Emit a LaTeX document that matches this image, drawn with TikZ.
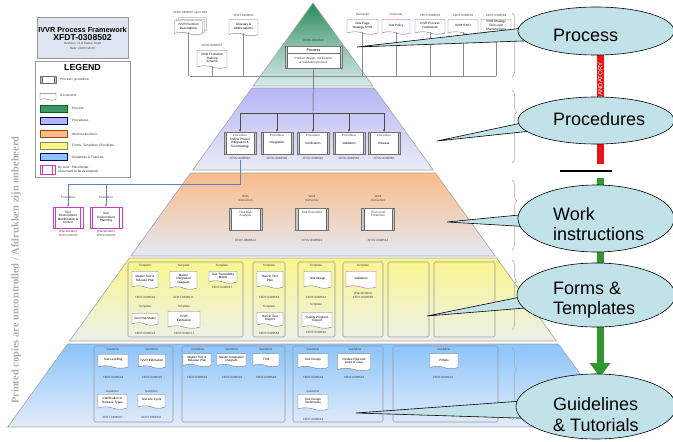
\documentclass[tikz,border=0pt]{standalone}
\usepackage{fontspec}
\setmainfont{Liberation Sans}
\newfontfamily\stampfont{Liberation Serif}
\usetikzlibrary{shapes.symbols,shapes.geometric,arrows.meta,decorations.pathreplacing}

\definecolor{bubble}{RGB}{194,226,234}
\definecolor{grnTop}{RGB}{40,138,88}
\definecolor{grnBot}{RGB}{216,234,236}
\definecolor{lavTop}{RGB}{182,182,246}
\definecolor{lavBot}{RGB}{234,236,248}
\definecolor{orTop}{RGB}{250,188,138}
\definecolor{orBot}{RGB}{228,232,244}
\definecolor{yeTop}{RGB}{250,246,140}
\definecolor{yeBot}{RGB}{236,240,234}
\definecolor{blTop}{RGB}{140,196,250}
\definecolor{blBot}{RGB}{226,236,250}
\definecolor{linkblue}{RGB}{90,130,200}
\definecolor{holder}{RGB}{200,60,190}
\definecolor{mandred}{RGB}{235,20,20}
\definecolor{flowgreen}{RGB}{50,150,50}
\definecolor{titlefill}{RGB}{222,228,240}

\begin{document}
\begin{tikzpicture}[x=1pt,y=-1pt,
  lbl/.style={font=\fontsize{3}{3.4}\selectfont, inner sep=0pt, text=black!75, align=center},
  legtext/.style={font=\fontsize{3.2}{3.7}\selectfont, inner sep=0pt, anchor=west, align=left, text=black!80},
  procbox/.style={draw=black!55, fill=white, line width=0.4pt, minimum width=32, minimum height=22,
    inner sep=1pt, align=center, font=\fontsize{3.1}{3.6}\selectfont,
    path picture={
      \fill[black!22] (path picture bounding box.north west) rectangle ([xshift=2.2pt]path picture bounding box.south west);
      \fill[black!22] (path picture bounding box.north east) rectangle ([xshift=-2.2pt]path picture bounding box.south east);
      \draw[black!60, line width=0.3pt] ([xshift=2.2pt]path picture bounding box.north west) -- ([xshift=2.2pt]path picture bounding box.south west);
      \draw[black!60, line width=0.3pt] ([xshift=-2.2pt]path picture bounding box.north east) -- ([xshift=-2.2pt]path picture bounding box.south east);}},
  holderbox/.style={procbox, draw=holder, path picture={
      \draw[holder, line width=0.4pt] ([xshift=2.5pt]path picture bounding box.north west) -- ([xshift=2.5pt]path picture bounding box.south west);
      \draw[holder, line width=0.4pt] ([xshift=-2.5pt]path picture bounding box.north east) -- ([xshift=-2.5pt]path picture bounding box.south east);}},
  docbox/.style={tape, tape bend top=none, tape bend bottom=out and in, tape bend height=2.5pt,
    draw=black!55, fill=white, line width=0.4pt, inner sep=0.6pt, align=center,
    font=\fontsize{3.1}{3.6}\selectfont},
  grp/.style={draw=black!40, rounded corners=1.5pt, line width=0.6pt},
  layer/.style={draw=black!35, line width=0.6pt},
  conn/.style={draw=black!70, line width=0.45pt},
  arr/.style={conn, -{Stealth[length=2.6pt,width=2.2pt]}},
  barr/.style={draw=linkblue, line width=0.5pt},
  barrow/.style={barr, -{Stealth[length=2.6pt,width=2.2pt]}},
  topline/.style={draw=black!45, line width=0.45pt},
  brc/.style={draw=black!35, line width=0.5pt, decorate, decoration={brace, amplitude=5pt, aspect=0.3}},
  callout/.style={ellipse, draw=black, line width=0.6pt, fill=bubble, inner sep=0pt},
  calltext/.style={font=\fontsize{18}{20.5}\selectfont, anchor=west, align=left, inner sep=0pt},
  tail/.style={draw=black, line width=0.6pt, fill=bubble, line join=miter}
]
\path[use as bounding box] (0,0) rectangle (673,442);

% ---------- pyramid layers ----------
\path[layer, top color=grnTop, bottom color=grnBot, middle color=grnTop!45!grnBot]
  (313,3) -- (372.8,86) -- (253.2,86) -- cycle;
\path[layer, top color=lavTop, bottom color=lavBot]
  (251.8,88) -- (374.2,88) -- (433.2,170) -- (192.8,170) -- cycle;
\path[layer, top color=orTop, bottom color=orBot]
  (190.6,173) -- (435.4,173) -- (495.2,256) -- (130.8,256) -- cycle;
\path[layer, top color=yeTop, bottom color=yeBot]
  (129.4,258) -- (496.6,258) -- (556.4,341) -- (69.6,341) -- cycle;
\path[layer, top color=blTop, bottom color=blBot]
  (67.5,344) -- (558.5,344) -- (618.3,427) -- (7.7,427) -- cycle;

% ---------- title block and legend ----------
\draw[black!40, fill=titlefill] (37,17) rectangle (128,58);
\node[font=\bfseries\fontsize{7.3}{8}\selectfont, inner sep=0pt] (ttl1) at (82.5,29.5) {IVVR Process Framework};
\node[font=\bfseries\fontsize{8.6}{9}\selectfont, inner sep=0pt] (ttl2) at (82.5,37.5) {XFDT-0308502};
\node[lbl] (ttl3) at (82.5,43.5) {Revision: v1.0 Status: Draft};
\node[lbl] (ttl4) at (82.5,48) {Date: 2010 Feb 05};

\draw[black!40, fill=white] (35,61) rectangle (130,177);
\node[font=\bfseries\fontsize{8.8}{9}\selectfont, inner sep=0pt] (lgT) at (82.5,67.5) {LEGEND};
\node[procbox, minimum width=16, minimum height=7, fill=white] (lg1) at (48,79.5) {};
\node[legtext] (lg1t) at (60,80) {Process / procedure};
\node[docbox, minimum width=16, minimum height=7, tape bend height=1.8pt] (lg2) at (48,96) {};
\node[legtext] (lg2t) at (60,95.5) {Documents};
\draw[draw=green!40!black, fill=grnTop!90] (40,105) rectangle (67,112);
\node[legtext] (lg3t) at (72,108.5) {Process};
\draw[draw=blue!50!black, fill=lavTop] (40,117) rectangle (67,124);
\node[legtext] (lg4t) at (72,120.5) {Procedures};
\draw[draw=orange!60!black, fill=orTop] (40,130.5) rectangle (67,137.5);
\node[legtext] (lg5t) at (72,134) {Work Instructions};
\draw[draw=yellow!50!black, fill=yeTop] (40,142) rectangle (67,149);
\node[legtext] (lg6t) at (72,145.5) {Forms, Templates, Checklists};
\draw[draw=blue!50!black, fill=blTop] (40,153.5) rectangle (67,160.5);
\node[legtext] (lg7t) at (72,157) {Guidelines \& Tutorials};
\node[holderbox, minimum width=15, minimum height=8.5] (lg8) at (47.5,169.5) {};
\node[legtext] (lg8t) at (58,169.5) {By color: Placeholder\\(document to be developed)};

% ---------- side stamp ----------
\node[rotate=90, anchor=east, inner sep=0pt, text=black!32, font=\stampfont\bfseries\fontsize{10.5}{11}\selectfont]
  (stamp) at (16,136) {Printed copies are uncontrolled / Afdrukken zijn onbeheerd};

% ---------- top-level documents ----------
\node[docbox, minimum width=28, minimum height=14] (fd3) at (192.5,23.5) {};
\node[docbox, minimum width=28, minimum height=14] (fd2) at (190.5,25) {};
\node[docbox, minimum width=28, minimum height=14] (fd1) at (188.5,26.5) {IVVR Function\\Descriptions};
\node[lbl] (fd1l) at (190,13) {XFDV-0308507 up to 509};
\node[docbox, minimum width=29, minimum height=16] (gl) at (243.5,26.5) {Glossary \&\\Abbreviations};
\node[lbl] (gll) at (243.5,15) {XFDT-0308501};
\node[docbox, minimum width=30, minimum height=18] (ft) at (212,58) {IVVR Formalize\\Training\\Scheme};
\node[lbl] (ftl) at (212,45.5) {XFDV-0308507};

\node[docbox, minimum width=31, minimum height=15] (op) at (362.5,25.5) {One Page\\Strategy IVVR};
\node[lbl] (opl) at (362.5,15) {(General)};
\node[docbox, draw=holder, minimum width=28, minimum height=15] (tp) at (396,25.5) {Test Policy};
\node[lbl] (tpl) at (396,15) {(General)};
\node[docbox, minimum width=30, minimum height=15] (pf) at (430,25.5) {IVVR Process\\Framework};
\node[lbl] (pfl) at (430,15) {XFDT-0308502};
\node[docbox, minimum width=30, minimum height=15] (rc) at (463,25.5) {IVVR RACI};
\node[lbl] (rcl) at (463,15) {XFDT-0308503};
\node[docbox, minimum width=30, minimum height=15] (tl) at (496,25.5) {IVVR Strategy\\Test Level\\Characteristics};
\node[lbl] (tll) at (496,15) {XFDT-0308504};

\coordinate (busL) at (190,76);
\coordinate (busR) at (496,76);
\draw[topline] (busL) -- (busR);
\draw[topline] (fd1.south) -- (fd1.south |- busL);
\draw[topline] (ft.south) -- (ft.south |- busL);
\draw[topline] (gl.south) -- (gl.south |- busL);
\draw[topline] (op.south) -- (op.south |- busL);
\draw[topline] (tp.south) -- (tp.south |- busL);
\draw[topline] (pf.south) -- (pf.south |- busL);
\draw[topline] (rc.south) -- (rc.south |- busL);
\draw[topline] (tl.south) -- (tl.south |- busL);

% ---------- process ----------
\node[lbl] (procl) at (313.5,40) {XFDV-0308500};
\node[procbox, minimum width=57, minimum height=22] (proc) at (313.5,57) {};
\node[font=\fontsize{3.8}{4}\selectfont, inner sep=0pt] (proch) at (313.5,50) {Process};
\draw[black!55, line width=0.35pt] (287.2,53) -- (339.8,53);
\node[lbl, font=\fontsize{3.1}{3.8}\selectfont] (procd) at (313.5,60.5) {Product design, Verification\\\& Validation process};

% ---------- procedures ----------
\coordinate (br) at (313,113);
\coordinate (brL) at (240,113);
\coordinate (brR) at (384,113);
\node[procbox] (pr1) at (240,143) {Define Project\\Integration \&\\Test Strategy};
\node[procbox] (pr2) at (277,143) {Integration};
\node[procbox] (pr3) at (313,143) {Verification};
\node[procbox] (pr4) at (349,143) {Validation};
\node[procbox] (pr5) at (384,143) {Release};
\draw[conn] (proc.south) -- (br);
\draw[conn] (brL) -- (brR);
\foreach \p in {pr1,pr2,pr3,pr4,pr5} {
  \draw[arr] (\p.north |- br) -- (\p.north);
}
\foreach \p/\i in {pr1/XFDV-0308510,pr2/XFDV-0308530,pr3/XFDV-0308540,pr4/XFDV-0308560,pr5/XFDV-0308580} {
  \node[lbl, fill=none] (\p l) at ([yshift=-4pt]\p.north) {Procedure};
  \node[lbl] (\p id) at ([yshift=-4.5pt]\p.south) {\i};
}

% placeholder procedures
\node[holderbox, minimum width=30, minimum height=21] (ph1) at (68,217.5) {Test\\Environment\\Identification \&\\Control};
\node[holderbox, minimum width=32, minimum height=21] (ph2) at (106,217.5) {Test\\Environment\\Planning};
\coordinate (bl1) at (240,184);
\coordinate (bl2) at (68,184);
\draw[barr] (pr1id.south) -- (bl1) -- (bl2);
\draw[barrow] (bl2) -- (ph1.north);
\draw[barrow] (ph2.north |- bl2) -- (ph2.north);
\node[lbl] (ph1l) at (68,197) {Procedure};
\node[lbl] (ph2l) at (106,197) {Procedure};
\node[lbl] (ph1id) at (68,233.5) {(Placeholder)\\XFDV-\#\#\#\#\#\#};
\node[lbl] (ph2id) at (106,233.5) {(Placeholder)\\XFDV-\#\#\#\#\#\#};

% ---------- work instructions ----------
\foreach \n/\x/\t/\i in {wi1/245.5/{Test Risk\\Analysis}/XFDV-0308513, wi2/312/{Test Execution}/XFDV-0308541, wi3/378/{Test Level\\Protection}/XFDV-0308514} {
  \node[procbox, minimum width=33] (\n) at (\x,219) {};
  \node[lbl, font=\fontsize{3.1}{3.6}\selectfont, anchor=north] (\n t) at ([yshift=-3pt]\n.north) {\t};
  \node[lbl] (\n l) at (\x,198.5) {Work\\Instruction};
  \node[lbl] (\n id) at (\x,240) {\i};
}

% ---------- forms & templates ----------
\draw[grp] (128,262) rectangle (243,337);
\draw[grp] (253,262) rectangle (285,337);
\draw[grp] (298,262) rectangle (335,337);
\draw[grp] (343,262) rectangle (383,337);
\draw[grp] (388,262) rectangle (429,337);
\draw[grp] (434,262) rectangle (495,337);

\node[docbox, minimum width=26, minimum height=17] (f1) at (145,278.5) {Master Test \&\\Release Plan};
\node[docbox, minimum width=27, minimum height=18] (f2) at (183.5,279) {Master\\Integration\\Diagram};
\node[docbox, minimum width=28, minimum height=12] (f3) at (223,276) {Test Traceability\\Matrix};
\node[docbox, minimum width=26, minimum height=12] (f4) at (145,318) {Test Risk Matrix};
\node[docbox, minimum width=32, minimum height=17] (f5) at (184,318.5) {IVVR\\Estimation};
\node[docbox, minimum width=26, minimum height=17] (f6) at (270,278.5) {Harvin Test\\Plan};
\node[docbox, minimum width=26, minimum height=14] (f7) at (270,318) {Harvin Test\\Report};
\node[docbox, minimum width=27, minimum height=17] (f8) at (317.5,278.5) {Test design};
\node[docbox, minimum width=30, minimum height=16] (f9) at (317,319) {Quality Progress\\Report};
\node[docbox, draw=holder, minimum width=30, minimum height=17] (f10) at (361,278.5) {Validation};

\foreach \n/\x/\y in {f1l/145/266, f2l/183.5/266, f3l/222/266, f4l/145/307, f5l/184/307, f6l/269/266, f7l/269/307, f8l/316/266, f9l/316/305, f10l/363/266} {
  \node[lbl] (\n) at (\x,\y) {Template};
}
\foreach \n/\x/\y/\i in {f1id/145/297/XFDT-0308515, f2id/183.5/297/XFDT-0308531, f3id/222/287.5/XFDT-0308547,
    f4id/145/333/XFDT-0308516, f5id/184/333/XFDT-0308517, f6id/269/297/XFDT-0308563, f7id/269/333/XFDT-0308564,
    f8id/316/297/XFDT-0308542, f9id/316/332/XFDT-0308546} {
  \node[lbl] (\n) at (\x,\y) {\i};
}
\node[lbl] (f10id) at (363,295.5) {(Placeholder)\\XFDT-0308565};

% ---------- guidelines & tutorials ----------
\draw[grp] (94,346) rectangle (173,422);
\draw[grp] (182,346) rectangle (285,422);
\draw[grp] (293,346) rectangle (383,422);
\draw[grp] (393,346) rectangle (498,422);

\node[docbox, minimum width=30, minimum height=14] (g1) at (113,360) {Test Levelling};
\node[docbox, minimum width=27, minimum height=14] (g2) at (152,360) {IVVR Estimation};
\node[docbox, minimum width=29, minimum height=15] (g3) at (112.5,400.5) {Clarification of\\Release Types};
\node[docbox, minimum width=27, minimum height=14] (g4) at (151.5,400) {Test Life Cycle};
\node[docbox, minimum width=28, minimum height=13] (g5) at (197,359) {Master Test \&\\Release Plan};
\node[docbox, minimum width=29, minimum height=13] (g6) at (231.5,359) {Master Integration\\Diagram};
\node[docbox, minimum width=26, minimum height=13] (g7) at (266,359) {TTM};
\node[docbox, minimum width=30, minimum height=15] (g8) at (313,360) {Test Design};
\node[docbox, minimum width=33, minimum height=17] (g9) at (354,361) {Review Risk test\\point of view};
\node[docbox, minimum width=30, minimum height=16] (g10) at (313,401) {Test Design\\Techniques};
\node[docbox, minimum width=28, minimum height=15] (g11) at (444,360) {Pitfalls};

\foreach \n/\x/\y in {g1l/113/349, g2l/152/349, g3l/112.5/391, g4l/151.5/391, g5l/198/349, g6l/232/349, g7l/266/349, g8l/313/349, g9l/355/349, g10l/313/391, g11l/444/349} {
  \node[lbl] (\n) at (\x,\y) {Guideline};
}
\foreach \n/\x/\y/\i in {g1id/113/377/XFDT-0308518, g2id/152/377/XFDT-0308520, g3id/112.5/417/XFDT-0308587, g4id/151.5/417/XFDT-0308511,
    g5id/197/377/XFDT-0308519, g6id/232/377/XFDT-0308532, g7id/266/377/XFDT-0308548,
    g8id/313/377/XFDT-0308543, g9id/354/377/XFDT-0308545, g10id/313/419/XFDT-0308544, g11id/443/377/XFDT-0308521} {
  \node[lbl] (\n) at (\x,\y) {\i};
}

% ---------- side braces ----------
\draw[brc] (512,13) -- (512,77);
\draw[brc] (512,90) -- (512,163);
\draw[brc] (512,180) -- (512,250);
\draw[brc] (512,260) -- (512,330);
\draw[brc] (512,348) -- (512,420);

% ---------- mandatory / flow arrow ----------
\fill[mandred] (596.5,50) rectangle (603.5,164);
\node[rotate=90, anchor=east, text=white, inner sep=0pt, font=\fontsize{6.2}{6.5}\selectfont] (mand) at (600.3,62) {MANDATORY};
\coordinate (cutL) at (560,171);
\coordinate (cutR) at (612,171);
\draw[black, line width=1.4pt] (cutL) -- (cutR);
\fill[flowgreen] (596.5,178) rectangle (603.5,364);
\fill[flowgreen] (589.5,363) -- (610.5,363) -- (600,377) -- cycle;

% ---------- callouts ----------
\coordinate (tipA) at (357,47);
\coordinate (tipB) at (437,141);
\coordinate (tipC) at (447,222);
\coordinate (tipD) at (427,316);
\coordinate (tipE) at (356,413);
\draw[tail] (tipA) -- (550,25) -- (550,40) -- cycle;
\draw[tail] (tipB) -- (550,117) -- (550,129) -- cycle;
\draw[tail] (tipC) -- (550,212) -- (550,228) -- cycle;
\draw[tail] (tipD) -- (550,291) -- (550,306) -- cycle;
\draw[tail] (tipE) -- (550,399) -- (550,419) -- cycle;

\node[callout, minimum width=156, minimum height=48] (cA) at (596,31) {};
\node[callout, minimum width=156, minimum height=47] (cB) at (596,120.5) {};
\node[callout, minimum width=156, minimum height=67] (cC) at (596,218.5) {};
\node[callout, minimum width=158, minimum height=64] (cD) at (596,295) {};
\node[callout, minimum width=160, minimum height=65] (cE) at (596,406.5) {};

\node[calltext] (cAt) at (553,35) {Process};
\node[calltext] (cBt) at (553,119.5) {Procedures};
\node[calltext] (cCt) at (553,224) {Work\\instructions};
\node[calltext] (cDt) at (553,300) {Forms \&\\Templates};
\node[calltext] (cEt) at (553,414.5) {Guidelines\\\& Tutorials};
\end{tikzpicture}
\end{document}
